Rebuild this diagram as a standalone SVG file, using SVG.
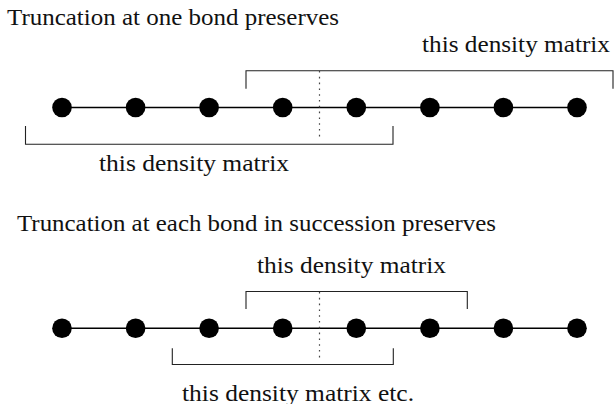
<svg xmlns="http://www.w3.org/2000/svg" width="614" height="404" viewBox="0 0 614 404">
  <style>
    .lbl { font-family: 'Liberation Serif', 'DejaVu Serif', 'Noto Serif', Tinos, 'Nimbus Roman', 'Nimbus Roman No9 L', FreeSerif, Times, 'Times New Roman', serif; font-size: 23px; fill: #111; }
    .chain { stroke: #000; stroke-width: 1.4; fill: none; }
    .brace { stroke: #222; stroke-width: 1.1; fill: none; }
    .cut { stroke: #444; stroke-width: 1.2; stroke-dasharray: 1.6 4.2; fill: none; }
    .site { fill: #000; }
  </style>
  <defs>
    <circle id="dot" r="9.8"/>
  </defs>

  <rect width="614" height="404" fill="#fff"/>

  <!-- Upper panel: single bond truncation -->
  <g id="title1"><text class="lbl" x="7" y="25" textLength="332" lengthAdjust="spacingAndGlyphs">Truncation at one bond preserves</text></g>

  <g id="connectors1">
    <line class="chain" x1="62" y1="107.5" x2="577" y2="107.5"/>
    <polyline class="brace" points="246,88.7 246,70.7 613,70.7 613,88.7"/>
    <polyline class="brace" points="25.5,126 25.5,144.3 393,144.3 393,126"/>
    <line class="cut" x1="319.5" y1="71" x2="319.5" y2="138"/>
  </g>

  <g id="chain1" class="site">
    <use href="#dot" x="62" y="107.5"/>
    <use href="#dot" x="135.6" y="107.5"/>
    <use href="#dot" x="209.1" y="107.5"/>
    <use href="#dot" x="282.7" y="107.5"/>
    <use href="#dot" x="356.3" y="107.5"/>
    <use href="#dot" x="429.9" y="107.5"/>
    <use href="#dot" x="503.4" y="107.5"/>
    <use href="#dot" x="577" y="107.5"/>
  </g>

  <g id="label1a"><text class="lbl" x="422" y="52" textLength="188" lengthAdjust="spacingAndGlyphs">this density matrix</text></g>
  <g id="label1b"><text class="lbl" x="99" y="171" textLength="190" lengthAdjust="spacingAndGlyphs">this density matrix</text></g>

  <!-- Lower panel: truncation at each bond in succession -->
  <g id="title2"><text class="lbl" x="17" y="230.5" textLength="479" lengthAdjust="spacingAndGlyphs">Truncation at each bond in succession preserves</text></g>

  <g id="connectors2">
    <line class="chain" x1="62" y1="328.3" x2="577" y2="328.3"/>
    <polyline class="brace" points="246,309 246,291.5 467.3,291.5 467.3,309"/>
    <polyline class="brace" points="172.3,348.3 172.3,364.5 393.3,364.5 393.3,348.3"/>
    <line class="cut" x1="319.5" y1="292" x2="319.5" y2="358"/>
  </g>

  <g id="chain2" class="site">
    <use href="#dot" x="62" y="328.3"/>
    <use href="#dot" x="135.6" y="328.3"/>
    <use href="#dot" x="209.1" y="328.3"/>
    <use href="#dot" x="282.7" y="328.3"/>
    <use href="#dot" x="356.3" y="328.3"/>
    <use href="#dot" x="429.9" y="328.3"/>
    <use href="#dot" x="503.4" y="328.3"/>
    <use href="#dot" x="577" y="328.3"/>
  </g>

  <g id="label2a"><text class="lbl" x="257" y="273" textLength="189" lengthAdjust="spacingAndGlyphs">this density matrix</text></g>
  <g id="label2b"><text class="lbl" x="182" y="400.5" textLength="232" lengthAdjust="spacingAndGlyphs">this density matrix etc.</text></g>
</svg>
